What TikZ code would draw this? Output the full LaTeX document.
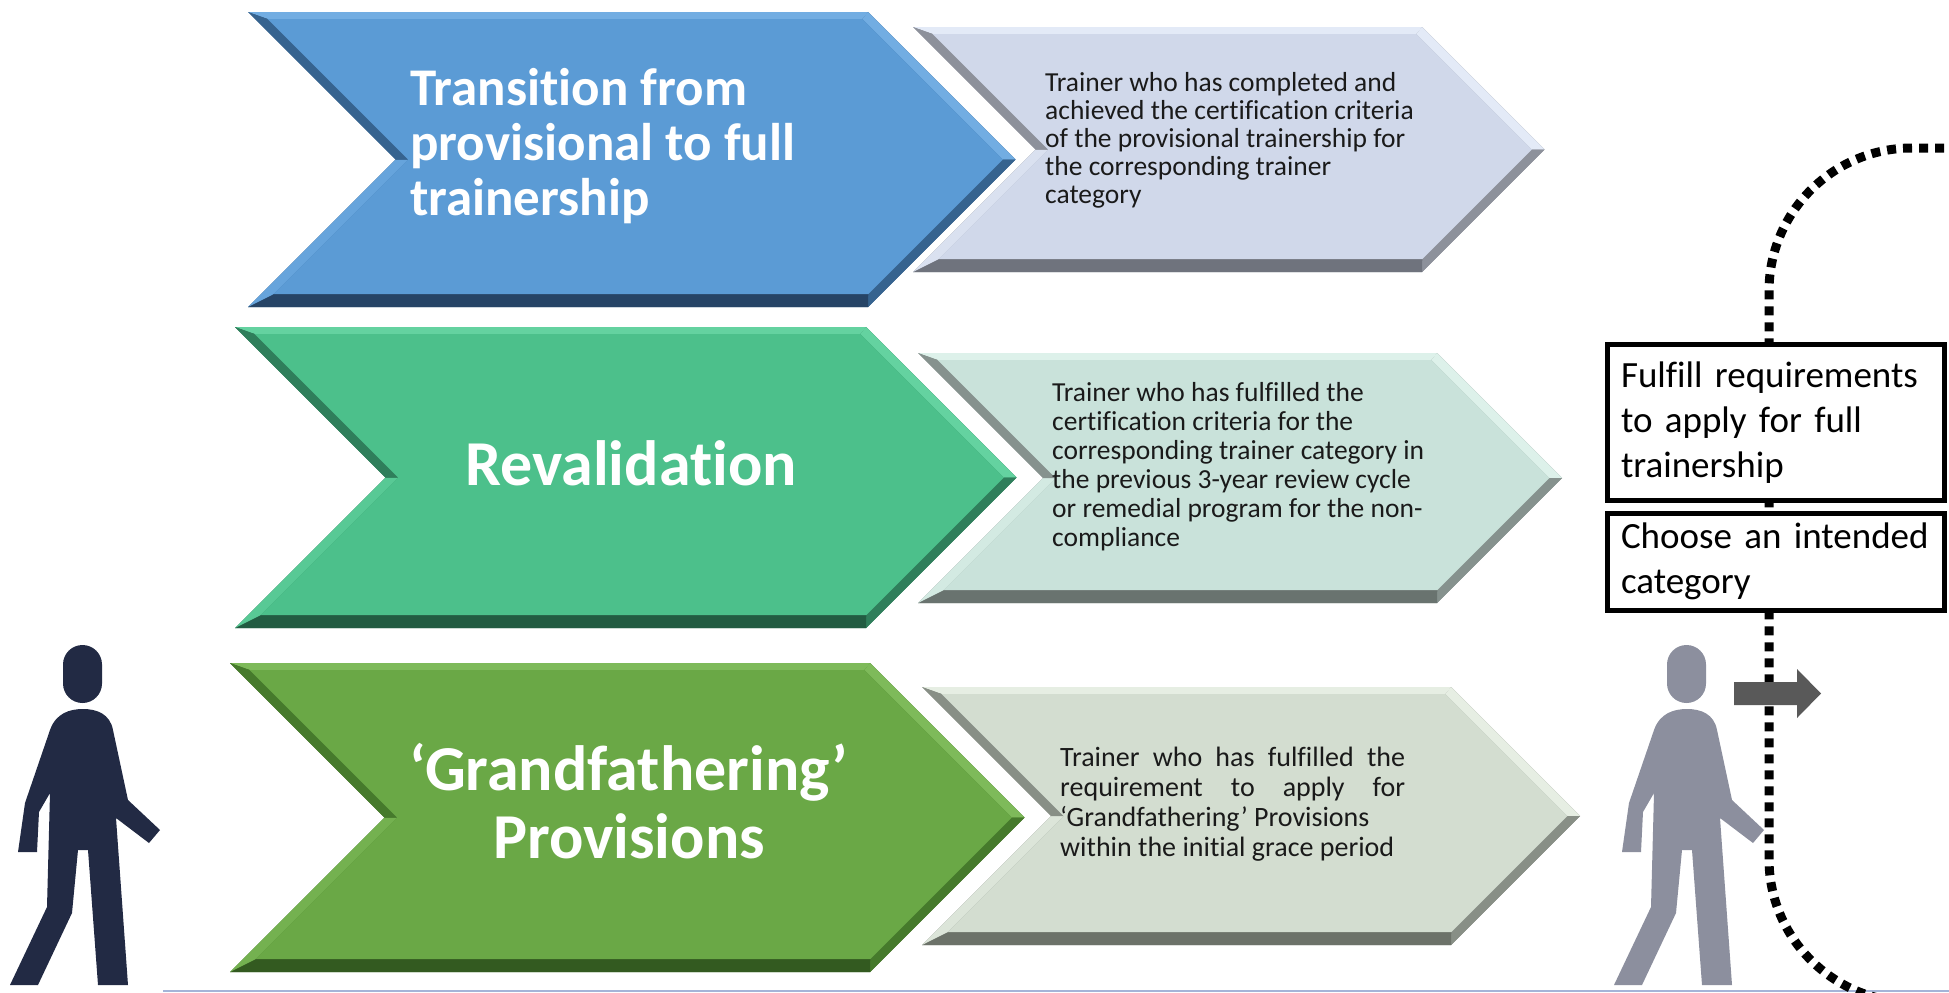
\documentclass[tikz,border=0pt]{standalone}
\usepackage{fontspec}
\setmainfont{Carlito}[Ligatures={NoCommon}]
\definecolor{blueF}{HTML}{5B9BD5}\definecolor{blueLt}{HTML}{72ADE2}\definecolor{blueDk}{HTML}{36638F}\definecolor{blueDd}{HTML}{264466}\definecolor{blueLl}{HTML}{66A4DC}
\definecolor{tealF}{HTML}{4CC08B}\definecolor{tealLt}{HTML}{64D2A0}\definecolor{tealDk}{HTML}{2F7E5B}\definecolor{tealDd}{HTML}{225C42}\definecolor{tealLl}{HTML}{58C995}
\definecolor{leafF}{HTML}{6AA846}\definecolor{leafLt}{HTML}{7EBA5A}\definecolor{leafDk}{HTML}{467A2C}\definecolor{leafDd}{HTML}{335A20}\definecolor{leafLl}{HTML}{74B150}
\definecolor{paleAF}{HTML}{D0D8EA}\definecolor{paleALt}{HTML}{E3EAF7}\definecolor{paleADk}{HTML}{8D919B}\definecolor{paleADd}{HTML}{6F737D}\definecolor{paleALl}{HTML}{DAE1F0}
\definecolor{paleBF}{HTML}{C9E2DA}\definecolor{paleBLt}{HTML}{DDF1EA}\definecolor{paleBDk}{HTML}{86928E}\definecolor{paleBDd}{HTML}{69736F}\definecolor{paleBLl}{HTML}{D3EAE2}
\definecolor{paleCF}{HTML}{D3DDD0}\definecolor{paleCLt}{HTML}{E6EEE3}\definecolor{paleCDk}{HTML}{888F86}\definecolor{paleCDd}{HTML}{6C7269}\definecolor{paleCLl}{HTML}{DCE5D9}
\definecolor{navyman}{HTML}{222A44}
\definecolor{greyman}{HTML}{8C8F9E}
\definecolor{arrowgrey}{HTML}{595959}
\definecolor{floorline}{HTML}{A4B4D8}
\definecolor{textblack}{HTML}{1A1A1A}
\newcommand\chevbev[5]{%
  \pgfmathsetmacro\chL{#1}\pgfmathsetmacro\chR{#2}%
  \pgfmathsetmacro\chT{#3}\pgfmathsetmacro\chB{#4}%
  \pgfmathsetmacro\chM{(#3+#4)/2}\pgfmathsetmacro\chN{(#4-#3)/2}%
  \def\chdT{7}\def\chdB{13}\def\chdS{9}%
  \coordinate (A) at (\chL,\chT);
  \coordinate (B) at (\chR,\chT);
  \coordinate (C) at (\chR+\chN,\chM);
  \coordinate (D) at (\chR,\chB);
  \coordinate (E) at (\chL,\chB);
  \coordinate (F) at (\chL+\chN,\chM);
  \coordinate (a) at (\chL+\chdT+\chdS*1.4142,\chT+\chdT);
  \coordinate (b) at (\chR+\chdT-\chdS*1.4142,\chT+\chdT);
  \coordinate (c) at (\chR+\chN-\chdS*1.4142,\chM);
  \coordinate (d) at (\chR+\chdB-\chdS*1.4142,\chB-\chdB);
  \coordinate (e) at (\chL+\chdB+\chdS*1.4142,\chB-\chdB);
  \coordinate (f) at (\chL+\chN+\chdS*1.4142,\chM);
  \fill[#5Dk] (A)--(B)--(C)--(D)--(E)--(F)--cycle;
  \fill[#5Lt] (A)--(B)--(b)--(a)--cycle;
  \fill[#5Lt] (B)--(C)--(c)--(b)--cycle;
  \fill[#5Dk] (C)--(D)--(d)--(c)--cycle;
  \fill[#5Dd] (D)--(E)--(e)--(d)--cycle;
  \fill[#5Ll] (E)--(F)--(f)--(e)--cycle;
  \fill[#5Dk] (F)--(A)--(a)--(f)--cycle;
  \fill[#5F] (a)--(b)--(c)--(d)--(e)--(f)--cycle;
}
\newcommand\walker[2]{%
  \begin{scope}[shift={(#1,0)}]
    \fill[#2, rounded corners=19.5pt] (63,645) rectangle (102,703);
    \fill[#2] (50,730) .. controls (56,713) and (70,709) .. (83,709)
      .. controls (97,709) and (110,714) .. (113,730)
      -- (128,800) -- (160,830) -- (149,843) -- (116,818) -- (128,985)
      -- (98,985) -- (88,850) -- (78,850) -- (72,913) -- (38,985)
      -- (10,985) -- (47,907) -- (50,793) -- (39,812) -- (37,852)
      -- (18,852) -- (25,803) -- cycle;
  \end{scope}}
\tikzset{
  headtext/.style={inner sep=0pt, text=white},
  smalltext/.style={inner sep=0pt, text=textblack, anchor=base west},
  stepbox/.style={draw=black, line width=5pt, fill=white, minimum width=337pt,
    text width=310pt, align=left, inner xsep=13.5pt, inner ysep=0pt,
    font=\fontsize{37}{45}\selectfont},
  dotline/.style={line width=9pt, dash pattern=on 9pt off 7pt, black}
}
\begin{document}
\begin{tikzpicture}[x=1pt,y=-1pt]
\useasboundingbox (0,0) rectangle (1949,993);
\fill[white] (0,0) rectangle (1949,993);
% chevrons
\chevbev{248}{868}{12}{307}{blue}
\chevbev{913}{1422}{27}{272}{paleA}
\chevbev{235}{866}{327}{628}{teal}
\chevbev{918}{1437}{353}{603}{paleB}
\chevbev{230}{870}{663}{972}{leaf}
\chevbev{922}{1451}{687}{945}{paleC}
% headings
\node[headtext, anchor=base west] (head1) at (410,105)
  {\parbox[t]{460pt}{\fontsize{53}{55}\selectfont\bfseries Transition from\\provisional to full\\trainership}};
\node[headtext, anchor=base] (head2) at (631,485)
  {\fontsize{64}{70}\selectfont\bfseries Revalidation};
\node[headtext, anchor=base] (head3) at (629,790)
  {\parbox[t]{520pt}{\centering\fontsize{64}{68}\selectfont\bfseries ‘Grandfathering’\\Provisions}};
% descriptions
\node[smalltext] (desc1) at (1045,91)
  {\parbox[t]{420pt}{\fontsize{27.5}{28}\selectfont Trainer who has completed and\\achieved the certification criteria\\of the provisional trainership for\\the corresponding trainer\\category}};
\node[smalltext] (desc2) at (1052,401)
  {\parbox[t]{420pt}{\fontsize{27.5}{29}\selectfont Trainer who has fulfilled the\\certification criteria for the\\corresponding trainer category in\\the previous 3-year review cycle\\or remedial program for the non-\\compliance}};
\node[smalltext] (desc3) at (1060,766)
  {\parbox[t]{345pt}{\fontsize{28}{30}\selectfont\makebox[345pt][s]{Trainer who has fulfilled the}\\\makebox[345pt][s]{requirement to apply for}\\‘Grandfathering’ Provisions\\within the initial grace period}};
% bottom line
\coordinate (lineL) at (163,991);
\coordinate (lineR) at (1949,991);
\draw[draw=floorline, line width=2.5pt] (lineL) -- (lineR);
% people
\walker{0}{navyman}
\walker{1604}{greyman}
% dotted loop
\coordinate (p0) at (1960,148);
\coordinate (p1) at (1912,148);
\coordinate (p2) at (1769,291);
\coordinate (p3) at (1769,859);
\coordinate (p4) at (1912,1002);
\coordinate (p5) at (1960,1002);
\begin{scope}
\clip (0,0) rectangle (1949,993);
\draw[dotline] (p0) -- (p1) .. controls (1833,148) and (1769,212) .. (p2) -- (p3)
  .. controls (1769,938) and (1833,1002) .. (p4) -- (p5);
\end{scope}
% boxes
\node[stepbox, minimum height=155.5pt] (fulfill) at (1776,422.25)
  {Fulfill requirements\\to apply for full\\trainership};
\node[stepbox, minimum height=97.5pt] (choose) at (1776,561.75)
  {Choose an intended\\category};
% arrow
\fill[arrowgrey] (1734,682) -- (1797,682) -- (1797,669) -- (1821,693.5) -- (1797,718) -- (1797,705) -- (1734,705) -- cycle;
\end{tikzpicture}
\end{document}
